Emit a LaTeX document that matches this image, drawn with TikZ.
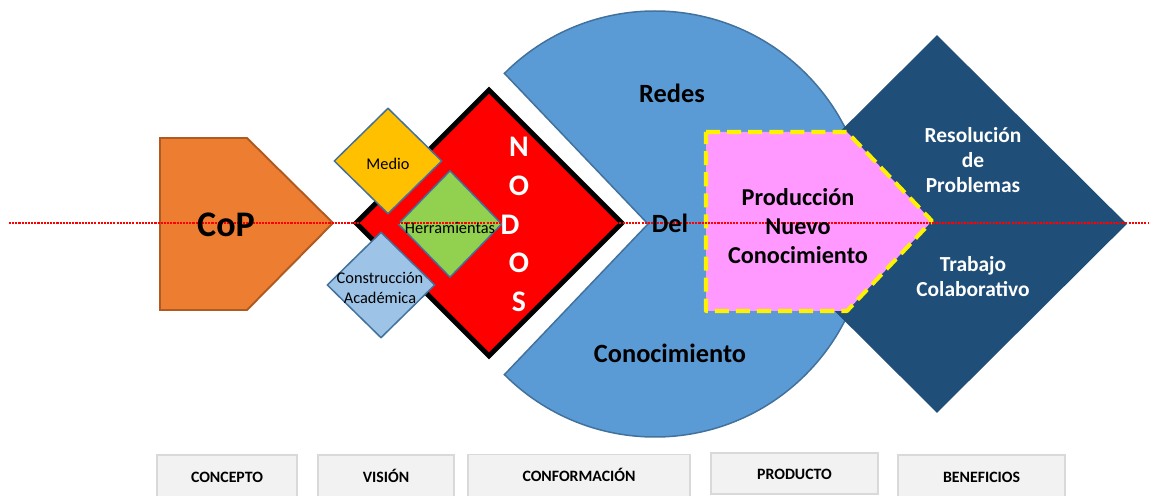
\documentclass[tikz,border=0pt]{standalone}
\usepackage{fontspec}
\setmainfont{Carlito}
\usetikzlibrary{shapes.geometric}
\definecolor{copOrange}{HTML}{ED7D31}
\definecolor{copEdge}{HTML}{AE5A21}
\definecolor{redesBlue}{HTML}{5B9BD5}
\definecolor{edgeBlue}{HTML}{41719C}
\definecolor{medioYellow}{HTML}{FFC000}
\definecolor{herrGreen}{HTML}{92D050}
\definecolor{constBlue}{HTML}{9DC3E6}
\definecolor{prodPink}{HTML}{FF99FF}
\definecolor{benefNavy}{HTML}{1F4E79}
\definecolor{boxGray}{HTML}{F2F2F2}
\definecolor{boxEdge}{HTML}{D9D9D9}
\newcommand{\bigsize}{\fontsize{15}{18}\selectfont}

\begin{document}
\begin{tikzpicture}[x=0.02cm,y=-0.02cm,inner sep=0pt,
	smalldia/.style={diamond,draw=edgeBlue,line width=0.85pt,minimum width=2.16cm,minimum height=2.12cm},
	smalltxt/.style={font=\fontsize{9.3}{11.2}\selectfont,align=center},
	bigtxt/.style={font=\bfseries\bigsize,align=center},
	whitetxt/.style={font=\bfseries\fontsize{12.2}{14.2}\selectfont,text=white,align=center},
	stagebox/.style={rectangle,draw=boxEdge,fill=boxGray,line width=0.8pt,minimum height=0.86cm,text height=6.5pt,text depth=0pt,font=\bfseries\fontsize{9}{11}\selectfont}]
	\useasboundingbox (0,0) rectangle (1149,496);

	% shapes
	\draw[fill=copOrange,draw=copEdge,line width=1.1pt] (160,138) -- (247,138) -- (333,223) -- (247,310) -- (160,310) -- cycle;
	\draw[fill=redesBlue,draw=edgeBlue,line width=0.85pt] (655,224) ++(225:213) arc[start angle=225,end angle=495,radius=213] -- (648,224) -- cycle;
	\node[diamond,fill=red,draw=black,line width=2.8pt,minimum width=5.36cm,minimum height=5.36cm] (nodos) at (489,223) {};
	\node[smalldia,fill=medioYellow] (medio) at (388,161) {};
	\node[smalldia,fill=constBlue] (constr) at (381,285) {};
	\node[smalldia,fill=herrGreen,minimum width=2.08cm,minimum height=2.14cm] (herr) at (450,224) {};
	\node[diamond,fill=benefNavy,minimum width=7.6cm,minimum height=7.56cm] (benef) at (937,224) {};
	\draw[fill=prodPink,draw=yellow,line width=2.3pt,dash pattern=on 8pt off 4pt,line join=round] (706,132) -- (847,132) -- (932,221) -- (847,311) -- (706,311) -- cycle;

	% eje
	\coordinate (ejeL) at (9,223);
	\coordinate (ejeR) at (1149,223);
	\draw[red,line width=0.6pt,dash pattern=on 1.2pt off 0.6pt] (ejeL) -- (ejeR);

	% texts
	\node[font=\bfseries\fontsize{20.5}{24}\selectfont] (cop) at (226,225) {CoP};
	\node[bigtxt] (redes) at (672,93) {Redes};
	\node[bigtxt] (del) at (670,223) {Del};
	\node[bigtxt] (conoc) at (670,353) {Conocimiento};
	\foreach \ch/\xx [count=\i] in {N/519,O/519,D/510,O/519,S/519}
		\node[font=\bfseries\fontsize{17}{20}\selectfont,text=white] (nodos\i) at ({\xx},{147+38.7*(\i-1)}) {\ch};
	\node[smalltxt] (medioT) at (388,164) {Medio};
	\node[smalltxt] (constrT) at (380,288) {Construcción\\Académica};
	\node[smalltxt] (herrT) at (450,228) {Herramientas};
	\node[whitetxt] (resol) at (973,160) {Resolución\\de\\Problemas};
	\node[whitetxt] (trabajo) at (973,277) {Trabajo\\Colaborativo};
	\node[font=\bfseries\fontsize{13.8}{16.4}\selectfont,align=center] (prod) at (798,226) {Producción\\Nuevo\\Conocimiento};

	% etapas
	\node[stagebox,minimum width=2.8cm] (concepto) at (227,476.5) {CONCEPTO};
	\node[stagebox,minimum width=2.72cm] (vision) at (386,476.5) {VISIÓN};
	\node[stagebox,minimum width=4.44cm] (conform) at (579,476) {CONFORMACIÓN};
	\node[stagebox,minimum width=3.34cm,minimum height=0.82cm] (producto) at (794.5,473.5) {PRODUCTO};
	\node[stagebox,minimum width=3.34cm] (beneficios) at (981.5,476.5) {BENEFICIOS};
\end{tikzpicture}
\end{document}
